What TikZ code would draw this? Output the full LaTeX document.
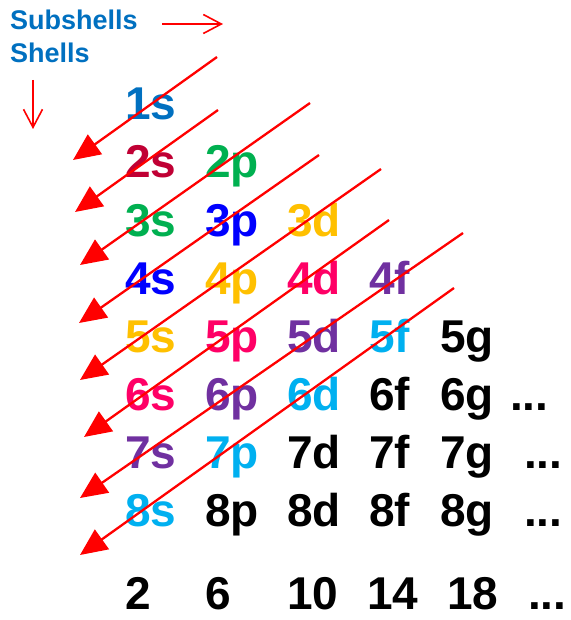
\documentclass[tikz,border=0pt]{standalone}
\usepackage{fontspec}
\setmainfont{Liberation Sans}
\usetikzlibrary{arrows.meta}
\definecolor{hdblue}{RGB}{0,112,192}
\definecolor{crim}{RGB}{192,0,52}
\definecolor{grn}{RGB}{0,176,80}
\definecolor{pblue}{RGB}{0,0,255}
\definecolor{gold}{RGB}{255,192,0}
\definecolor{pink}{RGB}{255,0,102}
\definecolor{purp}{RGB}{112,48,160}
\definecolor{sky}{RGB}{0,176,240}
\definecolor{arrred}{RGB}{255,0,0}
\tikzset{
  orb/.style={anchor=base west, inner sep=0pt, font=\fontsize{46}{50}\selectfont\bfseries},
  hdr/.style={anchor=base west, inner sep=0pt, text=hdblue, font=\fontsize{27}{30}\selectfont\bfseries},
  diag/.style={draw=arrred, line width=2.3pt, -{Triangle[length=27pt,width=24pt]}},
  guide/.style={draw=arrred, line width=1.6pt, -{Straight Barb[length=18pt,width=19pt,line width=1.6pt]}}
}
\begin{document}
\begin{tikzpicture}[x=1pt,y=-1pt]
\fill[white] (0,0) rectangle (570,620);
\useasboundingbox (0,0) rectangle (570,620);
% headers
\node[hdr] (sub) at (10,30) {Subshells};
\node[hdr] (shl) at (10,63) {Shells};
\coordinate (ra1) at (162,24);
\coordinate (ra2) at (223,24);
\draw[guide] (ra1) -- (ra2);
\coordinate (da1) at (33,80);
\coordinate (da2) at (33,129);
\draw[guide] (da1) -- (da2);
% orbitals
\node[orb, text=hdblue] (o1s) at (125,120) {1s};
\node[orb, text=crim]   (o2s) at (125,178) {2s};
\node[orb, text=grn]    (o2p) at (205,178) {2p};
\node[orb, text=grn]    (o3s) at (125,236) {3s};
\node[orb, text=pblue]  (o3p) at (205,236) {3p};
\node[orb, text=gold]   (o3d) at (287,236) {3d};
\node[orb, text=pblue]  (o4s) at (125,294) {4s};
\node[orb, text=gold]   (o4p) at (205,294) {4p};
\node[orb, text=pink]   (o4d) at (287,294) {4d};
\node[orb, text=purp]   (o4f) at (369,294) {4f};
\node[orb, text=gold]   (o5s) at (125,352) {5s};
\node[orb, text=pink]   (o5p) at (205,352) {5p};
\node[orb, text=purp]   (o5d) at (287,352) {5d};
\node[orb, text=sky]    (o5f) at (369,352) {5f};
\node[orb]              (o5g) at (440,352) {5g};
\node[orb, text=pink]   (o6s) at (125,410) {6s};
\node[orb, text=purp]   (o6p) at (205,410) {6p};
\node[orb, text=sky]    (o6d) at (287,410) {6d};
\node[orb]              (o6f) at (369,410) {6f};
\node[orb]              (o6g) at (440,410) {6g};
\node[orb]              (o6x) at (510,410) {...};
\node[orb, text=purp]   (o7s) at (125,468) {7s};
\node[orb, text=sky]    (o7p) at (205,468) {7p};
\node[orb]              (o7d) at (287,468) {7d};
\node[orb]              (o7f) at (369,468) {7f};
\node[orb]              (o7g) at (440,468) {7g};
\node[orb]              (o7x) at (524,468) {...};
\node[orb, text=sky]    (o8s) at (125,526) {8s};
\node[orb]              (o8p) at (205,526) {8p};
\node[orb]              (o8d) at (287,526) {8d};
\node[orb]              (o8f) at (369,526) {8f};
\node[orb]              (o8g) at (440,526) {8g};
\node[orb]              (o8x) at (524,526) {...};
% counts
\node[orb] (n2)  at (125,609) {2};
\node[orb] (n6)  at (205,609) {6};
\node[orb] (n10) at (287,609) {10};
\node[orb] (n14) at (367,609) {14};
\node[orb] (n18) at (447,609) {18};
\node[orb] (nx)  at (528,609) {...};
% diagonal arrows
\coordinate (a1) at (217,57);  \coordinate (b1) at (73,160);
\coordinate (a2) at (218,110); \coordinate (b2) at (75,212);
\coordinate (a3) at (310,103); \coordinate (b3) at (80,265);
\coordinate (a4) at (319,155); \coordinate (b4) at (79,323);
\coordinate (a5) at (381,169); \coordinate (b5) at (80,380);
\coordinate (a6) at (389,220); \coordinate (b6) at (84,437);
\coordinate (a7) at (463,233); \coordinate (b7) at (80,498);
\coordinate (a8) at (454,288); \coordinate (b8) at (80,555);
\foreach \i in {1,...,8} {\draw[diag] (a\i) -- (b\i);}
\end{tikzpicture}
\end{document}
